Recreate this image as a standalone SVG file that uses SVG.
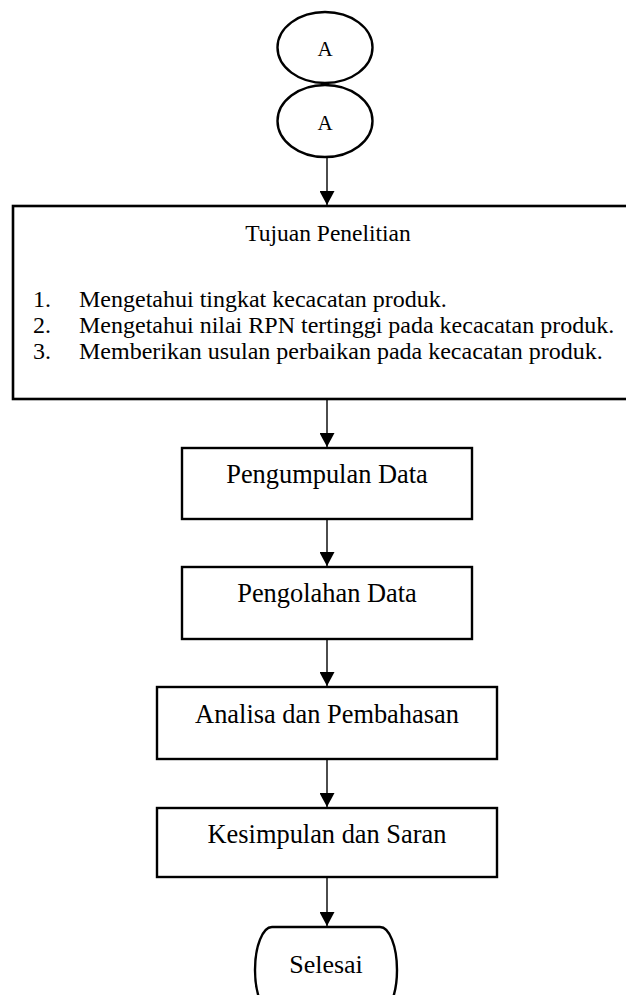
<svg xmlns="http://www.w3.org/2000/svg" width="626" height="995" viewBox="0 0 626 995">
<style>
.sh{fill:#fff;stroke:#000;stroke-width:2.4}
.t{font-family:"Liberation Serif","Times New Roman",serif;fill:#000}
.c{stroke:#000;stroke-width:1.4;fill:none}
</style>
<defs>
<marker id="ah" viewBox="0 0 14 15" refX="14" refY="7.5" markerWidth="14" markerHeight="15" markerUnits="userSpaceOnUse" orient="auto">
<path d="M0,0 L14,7.5 L0,15 Z" fill="#000"/>
</marker>
</defs>
<rect width="626" height="995" fill="#fff"/>
<g id="connectors">
<line class="c" x1="327" y1="157" x2="327" y2="205" marker-end="url(#ah)"/>
<line class="c" x1="327" y1="400" x2="327" y2="447" marker-end="url(#ah)"/>
<line class="c" x1="327" y1="520" x2="327" y2="566" marker-end="url(#ah)"/>
<line class="c" x1="327" y1="640" x2="327" y2="686" marker-end="url(#ah)"/>
<line class="c" x1="327" y1="760" x2="327" y2="807" marker-end="url(#ah)"/>
<line class="c" x1="327" y1="878" x2="327" y2="926" marker-end="url(#ah)"/>
</g>
<g id="connectorA1">
<ellipse class="sh" cx="325" cy="47.5" rx="47.5" ry="35.5"/>
<text class="t" x="325" y="56" font-size="21" text-anchor="middle">A</text>
</g>
<g id="connectorA2">
<ellipse class="sh" cx="325" cy="121" rx="47.5" ry="36"/>
<text class="t" x="325" y="130" font-size="21" text-anchor="middle">A</text>
</g>
<g id="tujuan">
<rect x="13" y="206" width="630" height="193" fill="#fff" stroke="#000" stroke-width="2.6"/>
<text class="t" x="328" y="241" font-size="23.5" text-anchor="middle">Tujuan Penelitian</text>
<text class="t" font-size="24">
<tspan x="33" y="307">1.</tspan>
<tspan x="79" y="307">Mengetahui tingkat kecacatan produk.</tspan>
<tspan x="33" y="333">2.</tspan>
<tspan x="79" y="333">Mengetahui nilai RPN tertinggi pada kecacatan produk.</tspan>
<tspan x="33" y="359">3.</tspan>
<tspan x="79" y="359">Memberikan usulan perbaikan pada kecacatan produk.</tspan>
</text>
</g>
<g id="pengumpulan">
<rect class="sh" x="182" y="448" width="290" height="71"/>
<text class="t" x="327" y="483" font-size="26.4" text-anchor="middle">Pengumpulan Data</text>
</g>
<g id="pengolahan">
<rect class="sh" x="182" y="567" width="290" height="72"/>
<text class="t" x="327" y="602" font-size="26.4" text-anchor="middle">Pengolahan Data</text>
</g>
<g id="analisa">
<rect class="sh" x="157" y="687" width="340" height="72"/>
<text class="t" x="327" y="723" font-size="26.4" text-anchor="middle">Analisa dan Pembahasan</text>
</g>
<g id="kesimpulan">
<rect class="sh" x="157" y="808" width="340" height="69"/>
<text class="t" x="327" y="843" font-size="26.4" text-anchor="middle">Kesimpulan dan Saran</text>
</g>
<g id="selesai">
<rect class="sh" x="255" y="927" width="142" height="86" rx="17" ry="43"/>
<text class="t" x="326" y="973" font-size="26" text-anchor="middle">Selesai</text>
</g>
</svg>
